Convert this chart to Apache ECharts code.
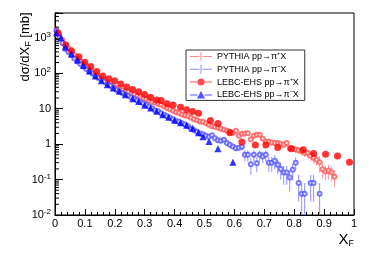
<!DOCTYPE html>
<html><head><meta charset="utf-8">
<script src="https://cdn.jsdelivr.net/npm/echarts/dist/echarts.min.js"></script>
<style>html,body{margin:0;padding:0;background:#fff}#c{width:373px;height:254px}</style>
</head><body><div id="c"></div>
<script>
// ---- data ----
const xTickStep = 0.1;
const yMin = 0.01, yMax = 5000;
const yDecades = [-2, -1, 0, 1, 2, 3];

// LEBC-EHS pp -> pi+ X (red filled circles)
const lebcPipX = [0.01,0.036,0.055,0.08,0.10,0.12,0.14,0.16,0.18,0.20,0.22,0.24,0.26,0.28,0.30,0.32,0.34,0.355,0.375,0.395,0.42,0.44,0.46,0.48,0.52,0.545,0.585,0.625,0.67,0.705,0.745,0.79,0.83,0.865,0.905,0.945,0.985];
const lebcPipY = [1370,630,433,293,204,154,111,84,70,61,50,41,35,30,25,21,17.6,16.9,13.7,12.7,10.9,9.3,8.3,7.4,4.6,3.8,2.1,1.14,0.95,0.95,0.80,0.74,0.69,0.54,0.52,0.46,0.31];

// LEBC-EHS pp -> pi- X (blue filled triangles)
const lebcPimX = [0.005,0.02,0.035,0.055,0.075,0.095,0.115,0.135,0.155,0.175,0.195,0.215,0.235,0.26,0.28,0.30,0.32,0.34,0.36,0.38,0.40,0.42,0.44,0.46,0.48,0.495,0.515,0.545,0.595];
const lebcPimY = [1390,1000,550,350,236,166,116,84,61,47,38,31,24.5,19,15.9,12.4,10.5,8.4,6.7,5.7,4.7,4.0,3.4,2.8,2.1,1.6,1.18,0.74,0.31];

// PYTHIA histograms, bins of width 0.01 starting at 0
const pyBinWidth = 0.01;
const pyPipY = [1650,1200,860,650,500,400,320,260,215,177,
  150,128,109,92,81,71,63,55,48,42.5,
  38.5,35,33,30.5,29.5,27,25,23.5,22,20,
  18.2,17,15.5,15,13.7,12.8,11.6,10.5,9.6,8.7,
  7.9,7.6,6.9,6.5,6.1,5.5,5.0,4.7,4.25,4.25,
  3.85,3.5,3.2,3.07,2.88,2.7,2.53,2.37,2.22,2.08,
  2.37,1.71,1.95,2.0,2.04,1.38,1.71,1.83,1.83,1.41,
  1.18,1.18,1.11,1.07,1.07,1.02,0.955,1.07,0.77,0.76,
  0.71,0.67,0.63,0.57,0.56,0.46,0.41,0.36,0.31,0.195,
  0.17,0.18,0.16,0.12];
const pyPipRelErr = [0.01,0.01,0.01,0.01,0.01,0.01,0.01,0.01,0.01,0.01,
  0.015,0.015,0.015,0.015,0.015,0.015,0.015,0.015,0.015,0.015,
  0.02,0.02,0.02,0.02,0.02,0.02,0.02,0.02,0.02,0.02,
  0.03,0.03,0.03,0.03,0.03,0.03,0.03,0.03,0.03,0.03,
  0.05,0.05,0.05,0.05,0.05,0.05,0.05,0.05,0.05,0.05,
  0.08,0.08,0.08,0.08,0.08,0.08,0.08,0.08,0.08,0.08,
  0.12,0.12,0.12,0.12,0.12,0.12,0.12,0.12,0.12,0.12,
  0.18,0.18,0.18,0.18,0.18,0.18,0.18,0.18,0.18,0.18,
  0.22,0.22,0.25,0.25,0.28,0.3,0.32,0.35,0.5,0.45,
  0.45,0.45,0.45,0.5];

const pyPimY = [1550,1050,710,480,400,320,260,215,183,155,
  132,112,98,84,73.5,65,57,50,44,38.5,
  33.7,30.5,27.8,25.3,23,20.9,18.9,17.1,15.5,14.1,
  12.8,11.6,10.2,8.9,8.4,7.4,6.7,6.1,5.5,5.0,
  4.5,4.25,3.85,3.6,3.17,2.7,2.45,2.22,2.0,1.89,
  1.71,1.61,1.77,1.46,1.28,1.24,1.32,1.07,0.955,0.86,
  0.77,0.79,0.84,0.5,0.5,0.27,0.5,0.29,0.5,0.45,
  0.5,0.30,0.30,0.34,0.26,0.2,0.158,0.158,0.115,0.19,
  0.30,0.08,0.04,0.04,null,0.08,0.08,null,0.04];
const pyPimRelErr = [0.01,0.01,0.01,0.01,0.01,0.01,0.01,0.01,0.01,0.01,
  0.015,0.015,0.015,0.015,0.015,0.015,0.015,0.015,0.015,0.015,
  0.02,0.02,0.02,0.02,0.02,0.02,0.02,0.02,0.02,0.02,
  0.035,0.035,0.035,0.035,0.035,0.035,0.035,0.035,0.035,0.035,
  0.06,0.06,0.06,0.06,0.06,0.06,0.06,0.06,0.06,0.06,
  0.1,0.1,0.1,0.12,0.12,0.12,0.14,0.15,0.15,0.16,
  0.2,0.2,0.2,0.35,0.35,0.5,0.35,0.45,0.35,0.35,
  0.35,0.45,0.45,0.42,0.45,0.5,0.55,0.55,0.6,0.5,
  0.4,0.7,1,1,0,0.7,0.7,0,1];

const legendNames = ['PYTHIA pp\u2192\u03c0\u207aX','PYTHIA pp\u2192\u03c0\u207bX','LEBC-EHS pp\u2192\u03c0\u207aX','LEBC-EHS pp\u2192\u03c0\u207bX'];
const yTitle = 'd\u03c3/dX{s|F} [mb]';
const xTitle = 'X{s|F}';

// ---- build ----
const FONT = 'Liberation Sans, Arial, Helvetica, sans-serif';
function pairs(xs, ys){ return xs.map((x,i)=>[x, ys[i]]); }
function hist(ys){ const out=[]; ys.forEach((v,i)=>{ if(v!=null) out.push([(i+0.5)*pyBinWidth, v]); }); return out; }
function errs(ys, rel){ const out=[]; ys.forEach((v,i)=>{ if(v!=null) out.push([(i+0.5)*pyBinWidth, v, v*rel[i]]); }); return out; }
const minorVals = [];
yDecades.forEach(d=>{ for(let k=2;k<=9;k++){ const v=k*Math.pow(10,d); if(v<=yMax) minorVals.push([0,v]); } });

function errRender(color){
  return function(params, api){
    const x=api.value(0), v=api.value(1), e=api.value(2);
    const lo = (v-e) > yMin ? v-e : yMin;
    const p0 = api.coord([x, lo]), p1 = api.coord([x, v+e]);
    return {type:'line', shape:{x1:p0[0],y1:p0[1],x2:p1[0],y2:p1[1]}, style:{stroke:color, lineWidth:1}};
  };
}

const iconBar = 'path://M0,4H9.5V5H0Z M12.5,4H22V5H12.5Z M10.5,0H11.5V9H10.5Z';
const iconCircle = 'path://M0,4H7.5V5H0Z M14.5,4H22V5H14.5Z M11,1A3.5,3.5 0 1,1 10.99,1Z M0,0H0.01V9H0Z';
const iconTri = 'path://M0,4H7.5V5H0Z M14.5,4H22V5H14.5Z M11,0.5L15,8L7,8Z M0,0H0.01V9H0Z';

const chart = echarts.init(document.getElementById('c'), null, {renderer:'canvas'});
chart.setOption({
  animation:false,
  backgroundColor:'#fff',
  grid:{left:55, right:19, top:13, bottom:39, show:true, borderColor:'#000', borderWidth:1},
  xAxis:{type:'value', min:0, max:1, interval:xTickStep,
    axisLine:{lineStyle:{color:'#000', width:1}},
    axisTick:{inside:true, length:6, lineStyle:{color:'#000'}},
    minorTick:{show:true, splitNumber:5, length:3, lineStyle:{color:'#000'}},
    splitLine:{show:false},
    axisLabel:{color:'#000', fontSize:11, fontFamily:FONT, margin:3}
  },
  yAxis:{type:'log', min:yMin, max:yMax, logBase:10,
    name:yTitle, nameLocation:'middle', nameRotate:90, nameGap:22, nameMoveOverlap:false,
    nameTextStyle:{fontSize:13, fontFamily:FONT, color:'#000', padding:[0,0,0,134],
      rich:{s:{fontSize:9, fontFamily:FONT, color:'#000', verticalAlign:'bottom', padding:[6,0,0,0]}}},
    axisLine:{lineStyle:{color:'#000', width:1}},
    axisTick:{inside:true, length:8, lineStyle:{color:'#000'}},
    splitLine:{show:false},
    axisLabel:{color:'#000', fontSize:11, fontFamily:FONT, margin:4,
      formatter:function(v){ const e=Math.log10(v); const r=Math.round(e); if(Math.abs(e-r)>1e-6) return ''; if(r===0) return '1'; if(r===1) return '10'; return '10{s|'+r+'}'; },
      rich:{s:{fontSize:8, fontFamily:FONT, color:'#000', verticalAlign:'top', padding:[0,0,6,0]}}
    }
  },
  legend:{orient:'vertical', left:186, top:50, selectedMode:false,
    backgroundColor:'#fff', borderColor:'#333', borderWidth:1, padding:[2,6,1,4],
    itemWidth:22, itemHeight:9, itemGap:3.8,
    textStyle:{fontSize:9, fontFamily:FONT, color:'#000', lineHeight:9},
    data:[
      {name:legendNames[0], icon:iconBar, itemStyle:{color:'#ff6b6b'}},
      {name:legendNames[1], icon:iconBar, itemStyle:{color:'#6b6bff'}},
      {name:legendNames[2], icon:iconCircle, itemStyle:{color:'#ff2020'}},
      {name:legendNames[3], icon:iconTri, itemStyle:{color:'#2a2aff'}}
    ]
  },
  graphic:[
    {type:'text', x:354, y:231, style:{text:xTitle, fontSize:15, fontFamily:FONT, fill:'#000', align:'right', verticalAlign:'top',
      rich:{s:{fontSize:9, fontFamily:FONT, fill:'#000', verticalAlign:'bottom', padding:[8,0,0,0]}}}}
  ],
  series:[
    {type:'custom', name:'minor', silent:true, clip:false, data:minorVals, z:5,
      renderItem:function(params, api){ const p=api.coord([0, api.value(1)]); return {type:'line', shape:{x1:p[0],y1:p[1],x2:p[0]+4,y2:p[1]}, style:{stroke:'#000', lineWidth:1}}; }},
    {type:'custom', name:'errPip', silent:true, clip:true, data:errs(pyPipY, pyPipRelErr), renderItem:errRender('#ff9a9a')},
    {type:'custom', name:'errPim', silent:true, clip:true, data:errs(pyPimY, pyPimRelErr), renderItem:errRender('#9090ff')},
    {type:'scatter', name:legendNames[0], data:hist(pyPipY), symbol:'emptyCircle', symbolSize:4, itemStyle:{color:'#ff5a5a', borderWidth:1}},
    {type:'scatter', name:legendNames[1], data:hist(pyPimY), symbol:'emptyCircle', symbolSize:4, itemStyle:{color:'#5a5aff', borderWidth:1}},
    {type:'scatter', name:legendNames[2], data:pairs(lebcPipX, lebcPipY), symbol:'circle', symbolSize:7, itemStyle:{color:'#ff0000'}},
    {type:'scatter', name:legendNames[3], data:pairs(lebcPimX, lebcPimY), symbol:'triangle', symbolSize:7, itemStyle:{color:'#0000ff'}}
  ]
});
</script></body></html>
